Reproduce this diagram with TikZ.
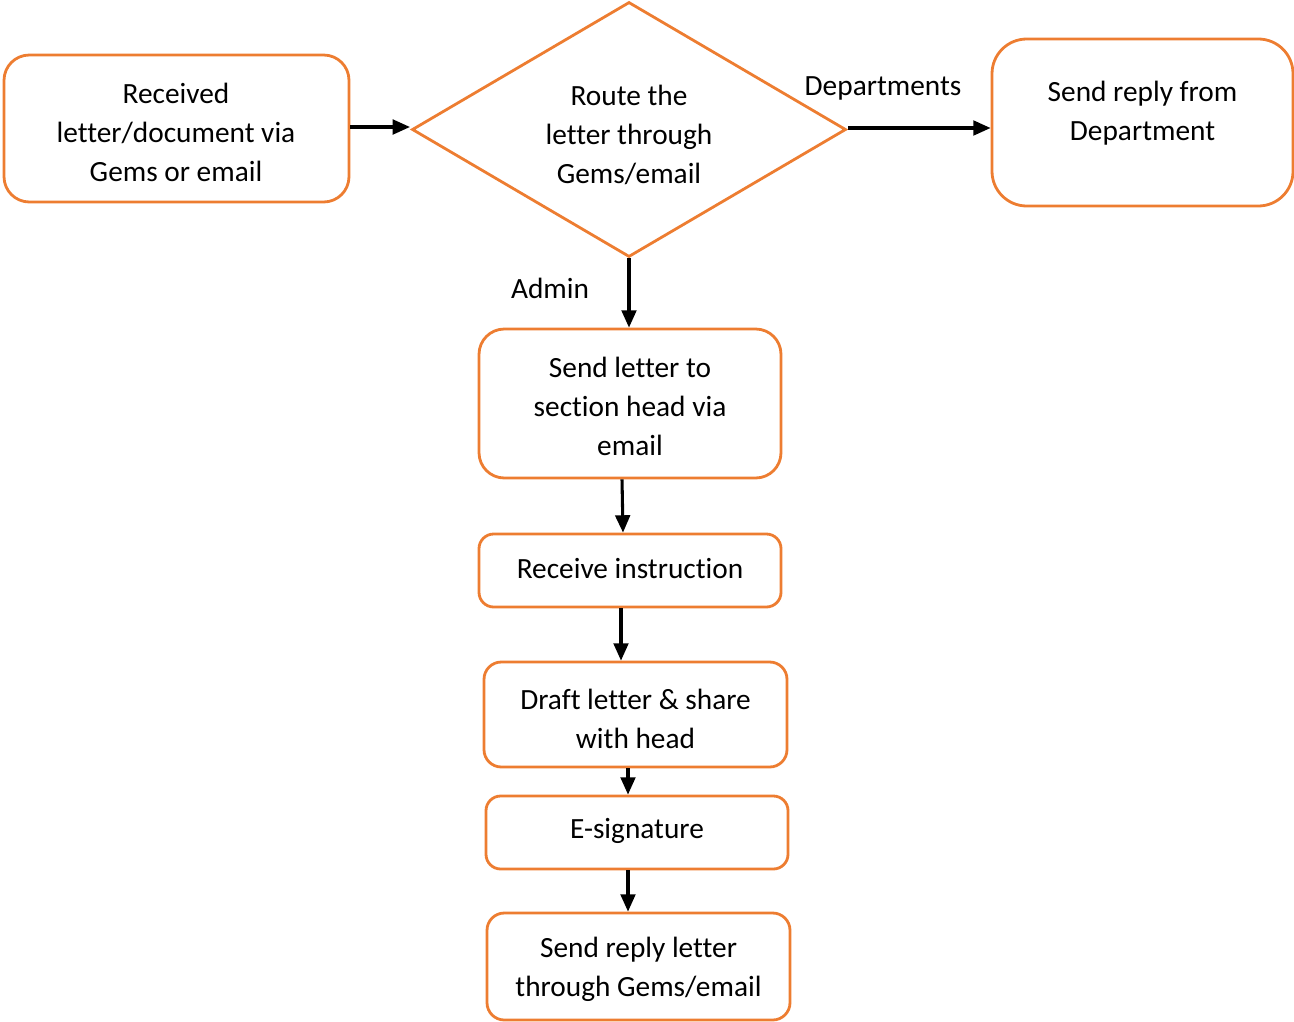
\documentclass[tikz,border=0pt]{standalone}
\usepackage{fontspec}
\setmainfont[Ligatures={NoCommon}]{Carlito}
\usetikzlibrary{arrows.meta,shapes.geometric}
\definecolor{boxorange}{RGB}{237,125,49}
\tikzset{
  box/.style={draw=boxorange, line width=2.1pt, rectangle, inner sep=0pt},
  txt/.style={align=center, font=\fontsize{22}{29.25}\selectfont, inner sep=0pt, yshift=-1.5pt},
  arr/.style={line width=2.3pt, -{Triangle[length=13pt,width=11pt]}}
}
\begin{document}
\begin{tikzpicture}[x=0.75pt,y=-0.75pt]
\useasboundingbox (0,0) rectangle (1294,1021);
% boxes
\node[box, rounded corners=19pt, minimum width=258.75pt, minimum height=110.25pt] (A) at (176.5,128.5) {};
\node[diamond, draw=boxorange, line width=2.1pt, inner sep=0pt, minimum width=325.5pt, minimum height=191.25pt] (D) at (629,129.5) {};
\node[box, rounded corners=26pt, minimum width=225.75pt, minimum height=125.25pt] (B) at (1142.5,122.5) {};
\node[box, rounded corners=19pt, minimum width=226.5pt, minimum height=111.75pt] (S) at (630,403.5) {};
\node[box, rounded corners=11pt, minimum width=226.5pt, minimum height=54.75pt] (R) at (630,570.5) {};
\node[box, rounded corners=13pt, minimum width=227.25pt, minimum height=78.75pt] (F) at (635.5,714.5) {};
\node[box, rounded corners=11pt, minimum width=226.5pt, minimum height=54.75pt] (E) at (637,832.5) {};
\node[box, rounded corners=13pt, minimum width=227.25pt, minimum height=80.25pt] (P) at (638.5,966.5) {};
% texts
\node[txt] (tA) at (176,130) {Received\\letter/document via\\Gems or email};
\node[txt] (tD) at (629,133) {Route the\\letter through\\Gems/email};
\node[txt] (tB) at (1142.5,111.5) {Send reply from\\Department};
\node[txt] (tS) at (630,404) {Send letter to\\section head via\\email};
\node[txt] (tR) at (630,567) {Receive instruction};
\node[txt] (tF) at (635.5,716.5) {Draft letter \& share\\with head};
\node[txt] (tE) at (637,829) {E-signature};
\node[txt] (tP) at (638.5,967.5) {Send reply letter\\through Gems/email};
\node[txt] (lDep) at (883,86) {Departments};
\node[txt] (lAdm) at (550,286) {Admin};
% connectors
\draw[arr] (A.east |- 0,127) -- (410,127) coordinate (a1);
\draw[arr] (848,128) coordinate (a2) -- (B.west |- 0,128);
\draw[arr] (D.south) -- (S.north -| D.south);
\draw[arr] (S.south -| 622,0) -- (R.north -| 623,0);
\draw[arr] (R.south -| 621,0) -- (F.north -| 621,0);
\draw[arr] (F.south -| 628,0) -- (E.north -| 628,0);
\draw[arr] (E.south -| 628,0) -- (P.north -| 628,0);
\end{tikzpicture}
\end{document}
